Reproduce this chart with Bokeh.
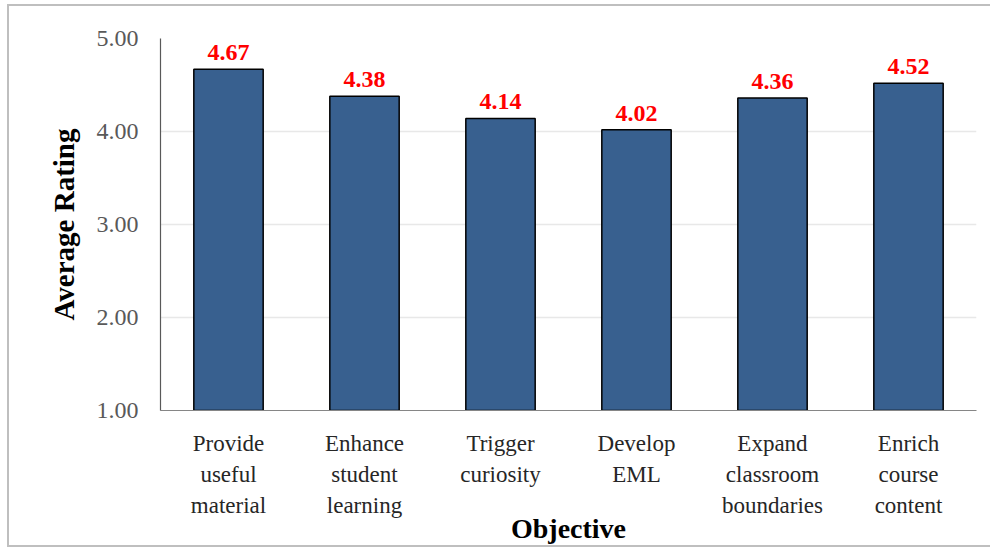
from bokeh.plotting import figure
from bokeh.models import FactorRange, Range1d, NumeralTickFormatter, ColumnDataSource, LabelSet, FixedTicker
from bokeh.embed import file_html
from bokeh.resources import INLINE

categories = ["Provide\nuseful\nmaterial", "Enhance\nstudent\nlearning", "Trigger\ncuriosity",
              "Develop\nEML", "Expand\nclassroom\nboundaries", "Enrich\ncourse\ncontent"]
ratings = [4.67, 4.38, 4.14, 4.02, 4.36, 4.52]
rating_labels = ["4.67", "4.38", "4.14", "4.02", "4.36", "4.52"]
y_ticks = [1, 2, 3, 4, 5]

FONT = "Liberation Serif"

src = ColumnDataSource(dict(cat=categories, val=ratings, lab=rating_labels))

p = figure(x_range=FactorRange(*categories, range_padding=0), y_range=Range1d(1, 5),
           width=983, height=543, output_backend="svg", toolbar_location=None,
           min_border_left=151, min_border_right=16, min_border_top=32, min_border_bottom=139)
p.styles = {"border-left": "2px solid #BFBFBF", "border-top": "2px solid #BFBFBF",
            "border-bottom": "2px solid #BFBFBF", "margin": "4px 0 0 7px"}

p.vbar(x="cat", top="val", bottom=1, width=0.51, source=src,
       fill_color="#38608F", line_color="black", line_width=1.5)

labels = LabelSet(x="cat", y="val", text="lab", source=src, text_align="center",
                  text_baseline="bottom", y_offset=9, text_color="#FF0000",
                  text_font=FONT, text_font_style="bold", text_font_size="24px")
p.add_layout(labels)

p.outline_line_color = None
p.xgrid.grid_line_color = None
p.ygrid.grid_line_color = "#E8E8E8"
p.ygrid.grid_line_width = 1.5
p.yaxis.ticker = FixedTicker(ticks=y_ticks)
p.yaxis.formatter = NumeralTickFormatter(format="0.00")

p.yaxis.axis_line_color = "#595959"
p.yaxis.axis_line_width = 1.2
p.yaxis.major_tick_line_color = None
p.yaxis.minor_tick_line_color = None
p.yaxis.major_label_text_font = FONT
p.yaxis.major_label_text_font_size = "24px"
p.yaxis.major_label_text_color = "#595959"
p.yaxis.major_label_standoff = 16
p.yaxis.axis_label = "Average Rating"
p.yaxis.axis_label_text_font = FONT
p.yaxis.axis_label_text_font_style = "bold"
p.yaxis.axis_label_text_font_size = "29px"
p.yaxis.axis_label_text_color = "black"
p.yaxis.axis_label_standoff = 14

p.xaxis.axis_line_color = "#868686"
p.xaxis.axis_line_width = 1.2
p.xaxis.major_tick_line_color = None
p.xaxis.minor_tick_line_color = None
p.xaxis.major_label_text_font = FONT
p.xaxis.major_label_text_font_size = "23px"
p.xaxis.major_label_text_color = "#262626"
p.xaxis.major_label_text_line_height = 1.25
p.xaxis.major_label_standoff = 14
p.xaxis.axis_label = "Objective"
p.xaxis.axis_label_text_font = FONT
p.xaxis.axis_label_text_font_style = "bold"
p.xaxis.axis_label_text_font_size = "28px"
p.xaxis.axis_label_text_color = "black"
p.xaxis.axis_label_standoff = -8

open("out.html", "w").write(file_html(p, INLINE))
